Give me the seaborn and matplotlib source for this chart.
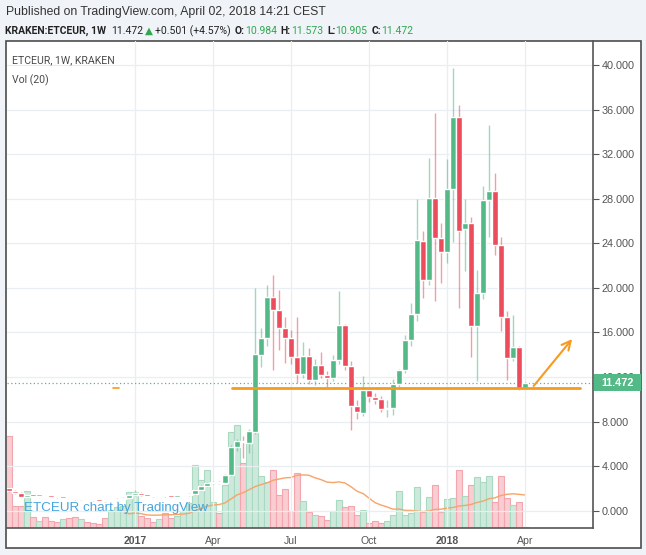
import matplotlib
matplotlib.use('Agg')
import matplotlib.pyplot as plt
import matplotlib.dates as mdates
import matplotlib.transforms as mtrans
from matplotlib.patches import Rectangle
import pandas as pd
import seaborn as sns

#%% data (weekly ETCEUR, Kraken)
first_week = '2016-08-08'

opens = [2.05, 1.75, 1.55, 1.25, 1.38, 1.34, 1.37, 1.31, 1.26, 1.18,
         1.22, 1.12, 1.02, 1.05, 0.97, 0.93, 0.89, 0.85, 0.92, 1.06,
         1.18, 1.40, 1.62, 1.38, 1.34, 1.30, 1.36, 1.30, 1.27, 1.31,
         1.37, 1.50, 1.85, 2.20, 2.48, 2.58, 2.50, 3.20, 5.75, 6.25,
         6.10, 7.10, 14.0, 15.5, 19.2, 18.0, 16.4, 15.5, 13.8, 12.3,
         13.9, 11.7, 13.1, 12.2, 11.9, 13.5, 16.7, 13.0, 9.4, 8.8,
         10.8, 10.2, 10.0, 9.1, 9.2, 11.4, 12.6, 15.3, 17.7, 24.2,
         20.7, 28.1, 24.5, 23.2, 28.9, 35.3, 25.3, 25.8, 16.6, 19.5,
         27.9, 28.7, 23.85, 17.4, 13.7, 14.7, 10.984]
highs = [2.15, 1.85, 1.65, 1.45, 1.42, 1.40, 1.40, 1.34, 1.30, 1.26,
         1.26, 1.16, 1.09, 1.08, 1.00, 0.97, 0.93, 0.95, 1.10, 1.22,
         1.45, 1.85, 1.68, 1.42, 1.38, 1.40, 1.40, 1.34, 1.34, 1.40,
         1.55, 1.95, 2.30, 2.55, 2.65, 2.66, 3.30, 5.90, 6.40, 6.70,
         7.30, 20.0, 16.4, 20.3, 21.2, 19.8, 17.4, 16.2, 17.4, 15.1,
         14.6, 13.6, 14.2, 12.5, 14.0, 19.7, 16.8, 13.4, 9.9, 12.1,
         11.0, 10.6, 10.3, 9.9, 11.8, 12.7, 15.8, 18.6, 28.0, 25.1,
         31.7, 35.7, 25.8, 31.6, 39.7, 36.4, 28.0, 26.4, 21.6, 29.1,
         34.6, 30.3, 24.6, 17.9, 17.6, 14.8, 11.573]
lows = [1.70, 1.50, 1.20, 1.18, 1.28, 1.30, 1.28, 1.22, 1.17, 1.14,
        1.10, 1.00, 0.97, 0.93, 0.88, 0.86, 0.82, 0.83, 0.90, 1.02,
        1.15, 1.35, 1.32, 1.30, 1.26, 1.28, 1.26, 1.22, 1.22, 1.28,
        1.33, 1.45, 1.78, 2.10, 2.40, 2.42, 2.45, 3.10, 5.40, 4.70,
        5.20, 6.90, 12.9, 14.8, 12.6, 14.4, 13.3, 13.2, 11.5, 11.9,
        11.4, 11.3, 11.9, 11.1, 11.6, 13.2, 12.6, 7.25, 8.2, 8.5,
        9.8, 9.6, 8.9, 8.4, 8.6, 11.0, 12.4, 14.8, 17.0, 19.1,
        20.3, 18.8, 20.4, 22.2, 24.15, 18.2, 21.5, 13.8, 11.6, 19.0,
        24.6, 22.95, 16.1, 11.7, 13.4, 10.8, 10.905]
closes = [1.75, 1.55, 1.25, 1.38, 1.34, 1.37, 1.31, 1.26, 1.20, 1.22,
          1.12, 1.03, 1.05, 0.97, 0.93, 0.89, 0.85, 0.92, 1.06, 1.18,
          1.40, 1.62, 1.38, 1.34, 1.30, 1.36, 1.30, 1.27, 1.31, 1.37,
          1.50, 1.85, 2.20, 2.48, 2.58, 2.50, 3.20, 5.75, 6.25, 6.15,
          7.15, 14.1, 15.5, 19.2, 18.0, 16.4, 15.5, 13.8, 12.3, 13.9,
          11.7, 13.1, 12.2, 11.9, 13.5, 16.7, 13.0, 9.4, 8.9, 10.8,
          10.2, 9.9, 9.1, 9.25, 11.4, 12.6, 15.3, 17.7, 24.3, 20.7,
          28.1, 24.5, 23.25, 28.9, 35.3, 25.1, 25.8, 16.6, 19.5, 27.9,
          28.7, 23.85, 17.4, 13.7, 14.7, 10.9, 11.472]
volume = [92, 22, 22, 37, 11, 7, 11, 7, 6, 9,
          10, 11, 9, 6, 5, 4, 10, 18, 21, 22,
          36, 36, 12, 10, 6, 9, 15, 10, 12, 17,
          25, 63, 48, 58, 26, 15, 43, 96, 103, 65,
          96, 98, 52, 46, 58, 33, 39, 17, 55, 27,
          16, 13, 12, 8, 17, 28, 21, 22, 13, 18,
          5, 7, 5, 7, 13, 37, 13, 15, 41, 16,
          31, 43, 16, 29, 30, 58, 32, 43, 51, 46,
          52, 26, 52, 30, 23, 26, 1]

tick_dates = ['2017-01-02', '2017-04-03', '2017-07-03', '2017-10-02', '2018-01-01', '2018-04-02']
tick_labels = ['2017', 'Apr', 'Jul', 'Oct', '2018', 'Apr']
price_ticks = [0, 4, 8, 12, 16, 20, 24, 28, 32, 36, 40]

# hand drawn lines on the chart
support_level = 11.0
support_dates = ['2017-04-25', '2018-06-05']
stub_dates = ['2016-12-07', '2016-12-14']
arrow_from = ('2018-04-10', 11.0)
arrow_to = ('2018-05-29', 15.6)
last_price = 11.472

#%% style
GREEN = '#53b987'
RED = '#eb4d5c'
VOL_GREEN, VOL_GREEN_EDGE = '#cde9db', '#a9d9c0'
VOL_RED, VOL_RED_EDGE = '#f9cdd1', '#f2a7ae'
ORANGE = '#f59b1f'
TXT = '#555555'

sns.set_theme(style='white')
plt.rcParams['font.family'] = ['Liberation Sans', 'DejaVu Sans']
NARROW = ['Roboto', 'DejaVu Sans']

W, H = 646, 555
def fx(px):
    return px / W
def fy(py):
    return 1 - py / H

fig = plt.figure(figsize=(W / 100, H / 100), dpi=100)
fig.patch.set_facecolor('#f0f3f7')
fig.patches.append(Rectangle((fx(6), fy(548)), fx(641) - fx(6), fy(41) - fy(548),
                             transform=fig.transFigure, facecolor='white',
                             edgecolor='#4d4d4d', lw=1.2, zorder=-5))

rect = [fx(7), fy(528), fx(593) - fx(7), fy(41) - fy(528)]
ax_vol = fig.add_axes(rect)
ax = fig.add_axes(rect, sharex=ax_vol)
ax_vol.patch.set_alpha(0)
ax.patch.set_alpha(0)

dates = pd.date_range(first_week, periods=len(closes), freq='7D')
df = pd.DataFrame({'date': dates, 'open': opens, 'high': highs, 'low': lows,
                   'close': closes, 'volume': volume})
df['up'] = df['close'] >= df['open']
df['vol_ma'] = df['volume'].rolling(20).mean()

#%% volume pane
ax_vol.bar(df['date'], df['volume'], width=6.1,
           color=[VOL_GREEN if u else VOL_RED for u in df['up']],
           edgecolor=[VOL_GREEN_EDGE if u else VOL_RED_EDGE for u in df['up']], lw=0.8)
sns.lineplot(data=df, x='date', y='vol_ma', ax=ax_vol, color='#f7a468', lw=1)
ax_vol.set_ylim(0, max(volume) * 487 / 103)
ax_vol.set_yticks([])
ax_vol.set_xlabel('')
ax_vol.set_ylabel('')
ax_vol.tick_params(axis='x', labelbottom=False, length=0)
for s in ax_vol.spines.values():
    s.set_visible(False)

#%% candles
colors = [GREEN if u else RED for u in df['up']]
ax.vlines(df['date'], df['low'], df['high'], colors=colors, lw=1, alpha=0.55, zorder=2)
body_lo = df[['open', 'close']].min(axis=1)
body_h = (df['close'] - df['open']).abs().clip(lower=0.12)
ax.bar(df['date'], body_h, bottom=body_lo, width=6.2, color=colors, zorder=3)

ax.axhline(last_price, color=GREEN, ls=(0, (1, 2)), lw=0.9, zorder=1)
ax.plot(pd.to_datetime(support_dates), [support_level] * 2, color=ORANGE, lw=2, zorder=4)
ax.plot(pd.to_datetime(stub_dates), [support_level] * 2, color=ORANGE, lw=1.2, zorder=4)
ax.annotate('', xy=(mdates.date2num(pd.Timestamp(arrow_to[0])), arrow_to[1]),
            xytext=(mdates.date2num(pd.Timestamp(arrow_from[0])), arrow_from[1]),
            arrowprops=dict(arrowstyle='->', color=ORANGE, lw=1.5, mutation_scale=16),
            zorder=4)

#%% axes
ref = pd.Timestamp('2017-01-02')
ax.set_xlim(ref - pd.Timedelta(days=149.3), ref + pd.Timedelta(days=534.3))
ax.set_ylim(-1.553, 42.16)

ax.set_xticks(pd.to_datetime(tick_dates))
ax.set_xticklabels(tick_labels)
for lab in ax.get_xticklabels():
    if lab.get_text().isdigit():
        lab.set_fontweight('bold')
ax.yaxis.tick_right()
ax.set_yticks(price_ticks)
ax.set_yticklabels([f'{v:.3f}' for v in price_ticks])
ax.tick_params(axis='both', length=4, width=0.8, color=TXT, labelcolor=TXT, labelsize=7.8)
ax.tick_params(axis='x', pad=2, labelsize=7.6)
ax.tick_params(axis='y', pad=2)
ax.grid(True, color='#e9eef3', lw=0.9)
ax.set_axisbelow(True)
for side in ['top', 'left']:
    ax.spines[side].set_visible(False)
for side in ['right', 'bottom']:
    ax.spines[side].set_color(TXT)
    ax.spines[side].set_linewidth(1.2)

# last price tag on the price scale
tag = mtrans.blended_transform_factory(ax.transAxes, ax.transData)
ax.add_patch(Rectangle((1.002, last_price - 0.76), 47 / 586, 1.52, transform=tag,
                       facecolor=GREEN, edgecolor='none', clip_on=False, zorder=6))
ax.text(1.002 + 23.5 / 586, last_price, f'{last_price:.3f}', transform=tag, ha='center',
        va='center', color='white', fontweight='bold', fontsize=7.8, zorder=7)

#%% texts
ax.text(5 / 586, 1 - (60 - 41) / 487, 'ETCEUR, 1W, KRAKEN', transform=ax.transAxes,
        va='center', color='#4a4a4a', fontsize=7.6, family=NARROW)
ax.text(5 / 586, 1 - (80 - 41) / 487, 'Vol (20)', transform=ax.transAxes,
        va='center', color='#4a4a4a', fontsize=7.6, family=NARROW)
ax.text(17 / 586, (528 - 508) / 487, 'ETCEUR chart by TradingView',
        transform=ax.transAxes, va='center', color='#45a5df', fontsize=9.6, zorder=8)

fig.text(fx(6), fy(12), 'Published on TradingView.com, April 02, 2018 14:21 CEST',
         va='center', color='#333333', fontsize=8.8)

DARK = '#222222'
VAL = '#2fa84f'
pieces = [('KRAKEN:ETCEUR, 1W', 'bold', DARK, 0),
          ('11.472', 'normal', DARK, 5),
          ('\u25b2', 'normal', VAL, 2),
          ('+0.501 (+4.57%)', 'normal', DARK, 2),
          ('O:', 'bold', DARK, 4), ('10.984', 'normal', VAL, 0),
          ('H:', 'bold', DARK, 4), ('11.573', 'normal', VAL, 0),
          ('L:', 'bold', DARK, 4), ('10.905', 'normal', VAL, 0),
          ('C:', 'bold', DARK, 4), ('11.472', 'normal', VAL, 0)]
prev = None
for text, weight, color, gap in pieces:
    size = 7.5
    if prev is None:
        prev = ax.annotate(text, xy=(fx(5), fy(31)), xycoords='figure fraction',
                           va='center', ha='left', fontweight=weight, color=color,
                           fontsize=size, family=NARROW, annotation_clip=False)
    else:
        prev = ax.annotate(text, xy=(1, 0.5), xycoords=prev, xytext=(gap * 0.72, 0),
                           textcoords='offset points', va='center', ha='left',
                           fontweight=weight, color=color, fontsize=size, family=NARROW,
                           annotation_clip=False)

fig.savefig('out.png', dpi=100, facecolor=fig.get_facecolor())
